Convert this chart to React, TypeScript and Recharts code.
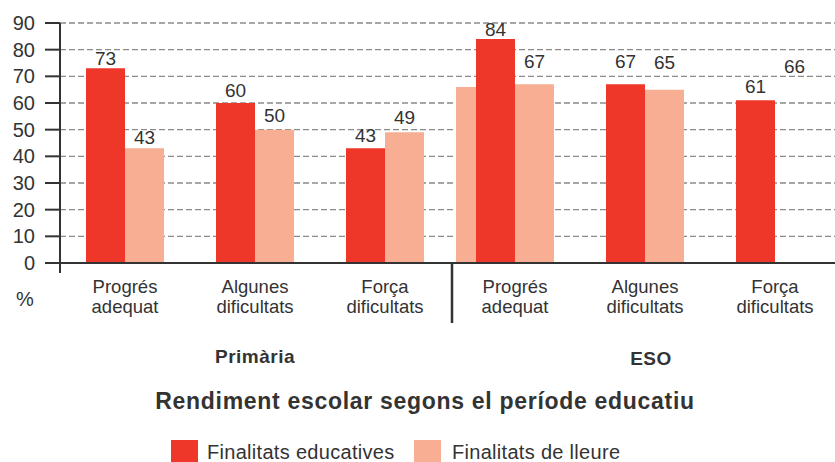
import React from 'react';
import { BarChart, Bar, XAxis, YAxis, CartesianGrid, ReferenceLine, LabelList, Cell, Legend } from 'recharts';

// ---------- data ----------
const stages = ['Primària', 'Primària', 'Primària', 'ESO', 'ESO', 'ESO'];
const categories = [
  'Progrés adequat',
  'Algunes dificultats',
  'Força dificultats',
  'Progrés adequat',
  'Algunes dificultats',
  'Força dificultats',
];
const educatives = [73, 60, 43, 84, 67, 61];
const lleure = [43, 50, 49, 67, 65, 66];
// in the source picture the last "lleure" bar is drawn shifted into the first ESO group
const lleureDesplacat = [null, null, null, 66, null, null];
const lleureBarDrawn = [true, true, true, true, true, false];
const yTicks = [0, 10, 20, 30, 40, 50, 60, 70, 80, 90];
const gridValues = [10, 20, 30, 40, 50, 60, 70, 80, 90];
const seriesNames = ['Finalitats educatives', 'Finalitats de lleure'];
const groupLabels = ['Primària', 'ESO'];
const chartTitle = 'Rendiment escolar segons el període educatiu';
const unitLabel = '%';

// ---------- styles ----------
const W = 835;
const H = 462;
const RED = '#EE3629';
const PINK = '#F7AE92';
const TEXT = '#333333';
const FONT = '"Liberation Sans", Arial, Helvetica, sans-serif';
const eduLabelOffsets = [10, 13, 13, 10, 23, 14];
const lleureLabelOffsets = [11, 14, 15, 23, 27, 21];

const data = categories.map((c, i) => ({
  id: `${stages[i]} · ${c}`,
  educatives: educatives[i],
  lleure: lleure[i],
  desplacat: lleureDesplacat[i],
}));

const makeLabel = (offsets: number[]) => (p: any) => {
  const { x, y, width, value, index } = p;
  if (value == null) return null;
  return (
    <text
      x={Number(x) + Number(width) / 2}
      y={Number(y) - offsets[index ?? 0]}
      textAnchor="middle"
      dominantBaseline="central"
      fontSize={19}
      fontFamily={FONT}
      fill={TEXT}
    >
      {value}
    </text>
  );
};

const CategoryTick = (props: any) => {
  const { x, y, index } = props;
  const label = categories[index] ?? '';
  const sp = label.indexOf(' ');
  const l1 = label.slice(0, sp);
  const l2 = label.slice(sp + 1);
  return (
    <g>
      <text x={x} y={y + 20} textAnchor="middle" fontSize={18.5} fontFamily={FONT} fill={TEXT}>
        {l1}
      </text>
      <text x={x} y={y + 40} textAnchor="middle" fontSize={18.5} fontFamily={FONT} fill={TEXT}>
        {l2}
      </text>
      {index > 0 && stages[index] !== stages[index - 1] ? (
        <line x1={x - 63} x2={x - 63} y1={y - 10} y2={y + 50} stroke={TEXT} strokeWidth={2.5} />
      ) : null}
    </g>
  );
};

const LegendContent = () => (
  <svg width={W} height={27} style={{ display: 'block' }}>
    <rect x={171} y={0} width={27} height={27} fill={RED} />
    <text x={207} y={19} fontSize={20} fontFamily={FONT} fill={TEXT} letterSpacing={0.3}>
      {seriesNames[0]}
    </text>
    <rect x={414} y={0} width={27} height={27} fill={PINK} />
    <text x={452} y={19} fontSize={20} fontFamily={FONT} fill={TEXT} letterSpacing={0.3}>
      {seriesNames[1]}
    </text>
  </svg>
);

export default function App() {
  return (
    <div style={{ position: 'absolute', left: 0, top: 0, width: W, height: H, background: '#fff', overflow: 'hidden' }}>
      <BarChart
        width={W}
        height={H}
        data={data}
        margin={{ top: 23, right: -5, bottom: H - 273 - 60, left: 0 }}
        barGap={0}
        barCategoryGap={0}
      >
        <CartesianGrid
          horizontal
          vertical={false}
          horizontalValues={gridValues}
          stroke="#8a8a8a"
          strokeWidth={1.4}
          strokeDasharray="6 3"
        />
        <XAxis
          dataKey="id"
          height={60}
          axisLine={false}
          tickLine={false}
          tickSize={0}
          tickMargin={0}
          interval={0}
          tick={<CategoryTick />}
        />
        <XAxis xAxisId="shift" dataKey="id" hide padding={{ left: -40, right: 40 }} />
        <YAxis
          width={60}
          domain={[-3.75, 90]}
          ticks={yTicks}
          interval={0}
          tickSize={15}
          tickMargin={10}
          axisLine={{ stroke: TEXT, strokeWidth: 2 }}
          tickLine={{ stroke: TEXT, strokeWidth: 2 }}
          tick={{ fontSize: 20, fontFamily: FONT, fill: TEXT }}
        />
        <Bar dataKey="desplacat" xAxisId="shift" barSize={39} fill={PINK} isAnimationActive={false} legendType="none" />
        <Bar dataKey="educatives" name={seriesNames[0]} barSize={39} fill={RED} isAnimationActive={false}>
          <LabelList dataKey="educatives" content={makeLabel(eduLabelOffsets)} />
        </Bar>
        <Bar dataKey="lleure" name={seriesNames[1]} barSize={39} fill={PINK} isAnimationActive={false}>
          {lleure.map((_, i) => (
            <Cell key={i} fill={PINK} fillOpacity={lleureBarDrawn[i] ? 1 : 0} />
          ))}
          <LabelList dataKey="lleure" content={makeLabel(lleureLabelOffsets)} />
        </Bar>
        <ReferenceLine y={0} stroke={TEXT} strokeWidth={2} />
        <Legend
          layout="horizontal"
          verticalAlign="middle"
          align="center"
          wrapperStyle={{ top: 440, left: 0, width: W, height: 27 }}
          content={<LegendContent />}
        />
      </BarChart>
      <svg
        width={W}
        height={H}
        style={{ position: 'absolute', left: 0, top: 0, pointerEvents: 'none' }}
      >
        <text x={25} y={306} textAnchor="middle" fontSize={20} fontFamily={FONT} fill={TEXT}>
          {unitLabel}
        </text>
        <text x={255} y={363} textAnchor="middle" fontSize={19} fontWeight="bold" fontFamily={FONT} fill={TEXT} letterSpacing={0.5}>
          {groupLabels[0]}
        </text>
        <text x={651} y={365} textAnchor="middle" fontSize={19} fontWeight="bold" fontFamily={FONT} fill={TEXT} letterSpacing={0.5}>
          {groupLabels[1]}
        </text>
        <text x={425} y={409} textAnchor="middle" fontSize={23} fontWeight="bold" fontFamily={FONT} fill={TEXT} letterSpacing={0.7}>
          {chartTitle}
        </text>
      </svg>
    </div>
  );
}
